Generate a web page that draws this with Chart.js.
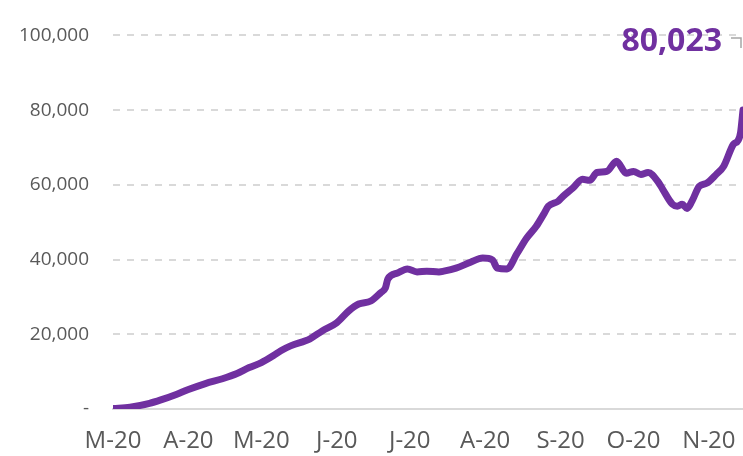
<!DOCTYPE html>
<html>
<head>
<meta charset="utf-8">
<script src="https://cdn.jsdelivr.net/npm/chart.js@4/dist/chart.umd.min.js"></script>
<style>
  html, body { margin: 0; padding: 0; background: #fff; }
  canvas { display: block; }
</style>
</head>
<body>
<canvas id="graphique" width="743" height="456"></canvas>
<script>
// month tick labels and the day (from 1 March) where each month starts
const monthLabels = ['M-20', 'A-20', 'M-20', 'J-20', 'J-20', 'A-20', 'S-20', 'O-20', 'N-20'];
const monthStartDays = [0, 31, 61, 92, 122, 153, 184, 214, 245];

// series: day index and value
const days = [0, 7, 15, 20, 26, 31, 38, 45, 51, 56, 61, 66, 69, 73, 81, 86, 92, 97, 101, 106,
  110, 112, 113, 117, 121, 125, 129, 134, 136, 141, 147, 152, 156, 158, 162, 166, 170, 174, 177, 179,
  183, 185, 189, 193, 196, 199, 203, 207, 211, 214, 217, 220, 224, 226, 230, 232, 234, 236, 238, 241,
  244, 248, 251, 255, 257, 258, 259];
const cases = [100, 500, 1500, 2500, 3900, 5200, 6800, 8100, 9500, 11100, 12400, 14300, 15600, 16900, 18800, 20900, 23100, 26300, 28100, 28900,
  31100, 32400, 34800, 36400, 37500, 36700, 36900, 36700, 36900, 37700, 39300, 40400, 39900, 37700, 37500, 41500, 45700, 48900, 52100, 54300,
  55600, 56900, 59100, 61500, 61200, 63300, 63600, 66300, 63100, 63600, 62800, 63300, 60900, 58800, 54800, 54300, 54800, 53700, 55600, 59600,
  60400, 62800, 64900, 70800, 71900, 74000, 80023];

const purple = '#7030a0';
const grey = '#595959';

const points = days.map((d, i) => ({ x: d, y: cases[i] }));

const lastLabel = {
  id: 'lastLabel',
  afterDraw(chart) {
    const ctx = chart.ctx;
    const txt = cases[cases.length - 1].toLocaleString('en-US');
    ctx.save();
    ctx.font = 'bold 32px "Open Sans"';
    ctx.fillStyle = purple;
    ctx.textAlign = 'right';
    ctx.textBaseline = 'alphabetic';
    ctx.fillText(txt, 722, 51);
    // leader line
    ctx.strokeStyle = '#a6a6a6';
    ctx.lineWidth = 1.5;
    ctx.beginPath();
    ctx.moveTo(731, 38);
    ctx.lineTo(741, 38);
    ctx.lineTo(741, 48);
    ctx.stroke();
    ctx.restore();
  }
};

new Chart(document.getElementById('graphique'), {
  type: 'line',
  data: {
    datasets: [{
      data: points,
      borderColor: purple,
      borderWidth: 7,
      pointRadius: 0,
      cubicInterpolationMode: 'monotone',
      borderJoinStyle: 'round',
      borderCapStyle: 'round'
    }]
  },
  options: {
    responsive: false,
    animation: false,
    devicePixelRatio: 1,
    layout: { padding: { top: 33, right: 0, left: 0, bottom: 0 } },
    plugins: { legend: { display: false }, tooltip: { enabled: false } },
    scales: {
      x: {
        type: 'linear',
        min: 0,
        max: 259,
        afterBuildTicks(scale) {
          scale.ticks = monthStartDays.map(v => ({ value: v }));
        },
        afterFit(scale) {
          scale.height = 47;
          scale.paddingRight = 0;
        },
        grid: { display: false, drawTicks: false },
        border: { display: true, color: '#d9d9d9', width: 2 },
        ticks: {
          autoSkip: false,
          maxRotation: 0,
          padding: 18,
          color: grey,
          font: { family: 'Open Sans', size: 24 },
          callback(value) {
            const i = monthStartDays.indexOf(value);
            return i >= 0 ? monthLabels[i] : '';
          }
        }
      },
      y: {
        min: 0,
        max: 100000,
        afterFit(scale) { scale.width = 113; },
        grid: {
          drawTicks: false,
          lineWidth: 2,
          color: ctx => ctx.tick && ctx.tick.value === 0 ? 'rgba(0,0,0,0)' : '#d9d9d9'
        },
        border: { display: false, dash: [7, 7] },
        ticks: {
          stepSize: 20000,
          padding: 24,
          color: grey,
          font: { family: 'Open Sans', size: 19 },
          callback(value) {
            return value === 0 ? '-' : value.toLocaleString('en-US');
          }
        }
      }
    }
  },
  plugins: [lastLabel]
});
</script>
</body>
</html>
